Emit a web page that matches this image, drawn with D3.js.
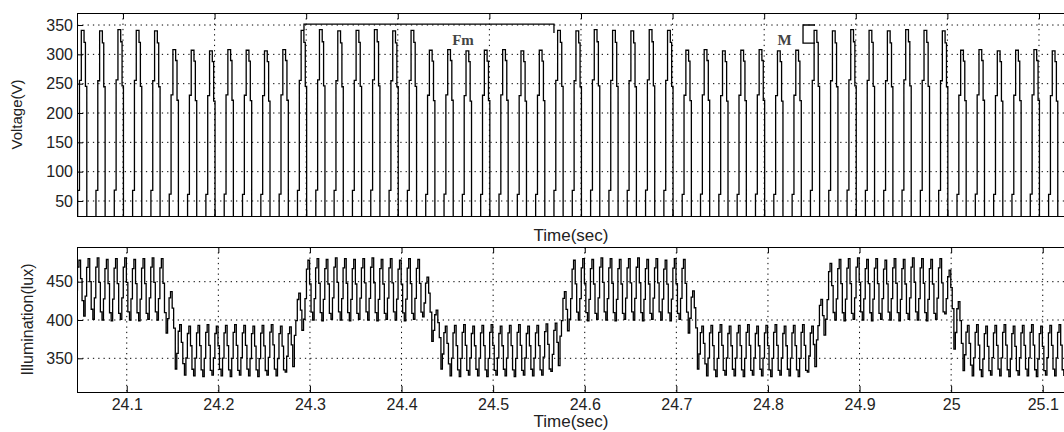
<!DOCTYPE html>
<html>
<head>
<meta charset="utf-8">
<script src="https://cdn.jsdelivr.net/npm/d3@7"></script>
<style>
  body { margin: 0; background: #fff; }
  svg { display: block; font-family: "Liberation Sans", Arial, sans-serif; }
  .grid line { stroke: #000; stroke-width: 1; stroke-dasharray: 1.3,4; }
  .trace { fill: none; stroke: #000; stroke-width: 1.3; }
  .tick text { fill: #222; font-size: 16px; }
  .tick line { stroke: #000; }
  .label { fill: #222; }
  .note { fill: #444; font-family: "Liberation Serif", "Times New Roman", serif; font-size: 15px; font-weight: bold; }
  .bracket { fill: none; stroke: #000; stroke-width: 1.3; }
</style>
</head>
<body>
<div id="chart"></div>
<script>
// Tick values
var voltTicks = [50, 100, 150, 200, 250, 300, 350];
var luxTicks = [350, 400, 450];
var timeTicks = [24.1, 24.2, 24.3, 24.4, 24.5, 24.6, 24.7, 24.8, 24.9, 25.0, 25.1];
var timeTickLabels = ['24.1', '24.2', '24.3', '24.4', '24.5', '24.6', '24.7', '24.8', '24.9', '25', '25.1'];

// Voltage: start time of each positive half cycle and its peak (V)
var pulseStart = [
  24.0505, 24.0705, 24.0905, 24.1105, 24.1305, 24.1505, 24.1705, 24.1905, 24.2105, 24.2305,
  24.2505, 24.2705, 24.2905, 24.3105, 24.3305, 24.3505, 24.3705, 24.3905, 24.4105, 24.4305,
  24.4505, 24.4705, 24.4905, 24.5105, 24.5305, 24.5505, 24.5705, 24.5905, 24.6105, 24.6305,
  24.6505, 24.6705, 24.6905, 24.7105, 24.7305, 24.7505, 24.7705, 24.7905, 24.8105, 24.8305,
  24.8505, 24.8705, 24.8905, 24.9105, 24.9305, 24.9505, 24.9705, 24.9905, 25.0105, 25.0305,
  25.0505, 25.0705, 25.0905, 25.1105
];
var pulsePeak = [
  341, 340, 342, 341, 340, 308, 307, 306, 308, 307,
  306, 308, 341, 342, 340, 341, 342, 340, 341, 307,
  308, 306, 307, 308, 306, 307, 341, 340, 342, 341,
  340, 342, 341, 307, 308, 306, 307, 308, 306, 307,
  341, 340, 342, 341, 340, 342, 341, 340, 307, 308,
  306, 307, 308, 306
];
// sampled (staircase) shape of one half cycle: offset in ms, fraction of peak
var pulseShapeMs = [0, 0, 2, 4, 7, 8.5, 10];
var pulseShapeLevel = [0, 0.2, 0.75, 1, 0.94, 0.72, 0];

// Illumination: start time of each 100 Hz ripple, its max and min (lux)
var rippleStart = [
  24.043, 24.053, 24.063, 24.073, 24.083, 24.093, 24.103, 24.113, 24.123, 24.133,
  24.143, 24.153, 24.163, 24.173, 24.183, 24.193, 24.203, 24.213, 24.223, 24.233,
  24.243, 24.253, 24.263, 24.273, 24.283, 24.293, 24.303, 24.313, 24.323, 24.333,
  24.343, 24.353, 24.363, 24.373, 24.383, 24.393, 24.403, 24.413, 24.423, 24.433,
  24.443, 24.453, 24.463, 24.473, 24.483, 24.493, 24.503, 24.513, 24.523, 24.533,
  24.543, 24.553, 24.563, 24.573, 24.583, 24.593, 24.603, 24.613, 24.623, 24.633,
  24.643, 24.653, 24.663, 24.673, 24.683, 24.693, 24.703, 24.713, 24.723, 24.733,
  24.743, 24.753, 24.763, 24.773, 24.783, 24.793, 24.803, 24.813, 24.823, 24.833,
  24.843, 24.853, 24.863, 24.873, 24.883, 24.893, 24.903, 24.913, 24.923, 24.933,
  24.943, 24.953, 24.963, 24.973, 24.983, 24.993, 25.003, 25.013, 25.023, 25.033,
  25.043, 25.053, 25.063, 25.073, 25.083, 25.093, 25.103, 25.113
];
var rippleMax = [
  478, 480, 481, 479, 480, 481, 479, 480, 481, 480,
  437, 394, 392, 393, 394, 392, 393, 394, 393, 392,
  393, 394, 392, 391, 435, 478, 480, 479, 481, 480,
  479, 480, 481, 479, 480, 478, 480, 479, 456, 413,
  392, 393, 394, 392, 393, 394, 392, 393, 394, 392,
  393, 395, 396, 437, 478, 480, 479, 481, 480, 479,
  480, 481, 479, 480, 478, 480, 479, 438, 392, 393,
  394, 392, 393, 394, 392, 393, 394, 392, 393, 394,
  392, 427, 474, 479, 480, 481, 479, 480, 478, 480,
  479, 481, 480, 479, 480, 465, 424, 393, 394, 392,
  393, 394, 392, 393, 394, 392, 393, 394
];
var rippleMin = [
  418, 405, 401, 400, 399, 401, 400, 399, 401, 400,
  383, 336, 328, 327, 326, 328, 327, 326, 328, 327,
  326, 328, 327, 332, 380, 401, 400, 399, 401, 400,
  399, 401, 400, 399, 401, 400, 399, 401, 404, 372,
  336, 327, 326, 328, 327, 326, 328, 327, 326, 328,
  327, 328, 333, 379, 401, 400, 399, 401, 400, 399,
  401, 400, 399, 401, 400, 399, 401, 383, 336, 327,
  326, 328, 327, 326, 328, 327, 326, 328, 327, 326,
  332, 374, 401, 400, 399, 401, 400, 399, 401, 400,
  399, 401, 400, 399, 401, 408, 362, 334, 327, 326,
  328, 327, 326, 328, 327, 326, 328, 327
];
// staircase shape of one ripple: offset in ms, fraction between min and max
var rippleShapeMs = [0, 1.6, 3.2, 4.8, 6.6, 8.2];
var rippleShapeLevel = [0, 0.35, 0.85, 1, 0.6, 0.12];

// Annotations in data units of the voltage plot
var fmBracket = [[24.2976, 341.5], [24.2976, 351.7], [24.5705, 351.7], [24.5705, 336.4]];
var fmLabel = { t: 24.4712, v: 316, text: 'Fm' };
var mBracket = [[24.8555, 350], [24.8424, 350], [24.8424, 319.3], [24.8555, 319.3]];
var mLabel = { t: 24.8224, v: 316, text: 'M' };

var W = 1064, H = 432;
var left = 77, right = 1065;
var top1 = 13, bottom1 = 216;
var top2 = 247, bottom2 = 392;

var svg = d3.select('#chart').append('svg')
    .attr('width', W)
    .attr('height', H);

// Scales
var x1 = d3.scaleLinear().domain([24.0498, 25.1284]).range([left, right]);
var y1 = d3.scaleLinear().domain([24.4, 370.5]).range([bottom1, top1]);
var x2 = d3.scaleLinear().domain([24.0457, 25.1243]).range([left, right]);
var y2 = d3.scaleLinear().domain([306, 495.3]).range([bottom2, top2]);

// Build traces
var voltPts = [];
pulseStart.forEach(function(t0, i) {
  pulseShapeMs.forEach(function(ms, j) {
    voltPts.push({ t: t0 + ms / 1000, v: pulsePeak[i] * pulseShapeLevel[j] });
  });
});

var luxPts = [];
rippleStart.forEach(function(t0, i) {
  rippleShapeMs.forEach(function(ms, j) {
    luxPts.push({ t: t0 + ms / 1000, v: rippleMin[i] + (rippleMax[i] - rippleMin[i]) * rippleShapeLevel[j] });
  });
});
luxPts.push({ t: rippleStart[rippleStart.length - 1] + 0.01, v: rippleMin[rippleMin.length - 1] });

function panel(x, y, yTicks, yTop, yBottom, showLabels, clipId) {
  var g = svg.append('g');

  g.append('clipPath').attr('id', clipId)
    .append('rect')
    .attr('x', left).attr('y', yTop)
    .attr('width', right - left).attr('height', yBottom - yTop);

  // grid
  var grid = g.append('g').attr('class', 'grid');
  grid.selectAll('.vg').data(timeTicks).enter().append('line')
    .attr('x1', function(d) { return x(d); })
    .attr('x2', function(d) { return x(d); })
    .attr('y1', yTop).attr('y2', yBottom);
  grid.selectAll('.hg').data(yTicks).enter().append('line')
    .attr('x1', left).attr('x2', right)
    .attr('y1', function(d) { return y(d); })
    .attr('y2', function(d) { return y(d); });

  // axes with inward ticks
  var bottomAxis = d3.axisBottom(x).tickValues(timeTicks).tickSize(-6).tickSizeOuter(0).tickPadding(7)
    .tickFormat(function(d, i) { return showLabels ? timeTickLabels[i] : ''; });
  g.append('g').attr('transform', 'translate(0,' + yBottom + ')').call(bottomAxis)
    .call(function(s) { s.select('.domain').remove(); });

  g.append('g').attr('transform', 'translate(0,' + yTop + ')')
    .call(d3.axisTop(x).tickValues(timeTicks).tickSize(-6).tickSizeOuter(0).tickFormat(''))
    .call(function(s) { s.select('.domain').remove(); });

  g.append('g').attr('transform', 'translate(' + left + ',0)')
    .call(d3.axisLeft(y).tickValues(yTicks).tickSize(-6).tickSizeOuter(0).tickPadding(4))
    .call(function(s) { s.select('.domain').remove(); });

  g.append('rect')
    .attr('x', left + 0.5).attr('y', yTop + 0.5)
    .attr('width', right - left).attr('height', yBottom - yTop)
    .attr('fill', 'none').attr('stroke', '#000').attr('stroke-width', 1);

  return g;
}

var g1 = panel(x1, y1, voltTicks, top1, bottom1, false, 'clipV');
var g2 = panel(x2, y2, luxTicks, top2, bottom2, true, 'clipL');

var line1 = d3.line()
  .x(function(d) { return x1(d.t); })
  .y(function(d) { return y1(d.v); })
  .curve(d3.curveStepAfter);
var line2 = d3.line()
  .x(function(d) { return x2(d.t); })
  .y(function(d) { return y2(d.v); })
  .curve(d3.curveStepAfter);

g1.append('path').datum(voltPts)
  .attr('class', 'trace')
  .attr('clip-path', 'url(#clipV)')
  .attr('d', line1);
g2.append('path').datum(luxPts)
  .attr('class', 'trace')
  .attr('clip-path', 'url(#clipL)')
  .attr('d', line2);

// annotations
var bline = d3.line()
  .x(function(d) { return x1(d[0]); })
  .y(function(d) { return y1(d[1]); });
g1.append('path').datum(fmBracket).attr('class', 'bracket').attr('d', bline);
g1.append('path').datum(mBracket).attr('class', 'bracket').attr('d', bline);
[fmLabel, mLabel].forEach(function(d) {
  g1.append('text').attr('class', 'note')
    .attr('x', x1(d.t)).attr('y', y1(d.v))
    .attr('text-anchor', 'middle')
    .text(d.text);
});

// axis labels
svg.append('text').attr('class', 'label')
  .attr('x', (left + right) / 2).attr('y', 241)
  .attr('text-anchor', 'middle').style('font-size', '17px')
  .text('Time(sec)');
svg.append('text').attr('class', 'label')
  .attr('x', (left + right) / 2).attr('y', 427)
  .attr('text-anchor', 'middle').style('font-size', '17px')
  .text('Time(sec)');
svg.append('text').attr('class', 'label')
  .attr('transform', 'translate(22,' + (top1 + bottom1) / 2 + ') rotate(-90)')
  .attr('text-anchor', 'middle').style('font-size', '15px')
  .text('Voltage(V)');
svg.append('text').attr('class', 'label')
  .attr('transform', 'translate(33,' + (top2 + bottom2) / 2 + ') rotate(-90)')
  .attr('text-anchor', 'middle').style('font-size', '16px')
  .text('Illumination(lux)');
</script>
</body>
</html>
